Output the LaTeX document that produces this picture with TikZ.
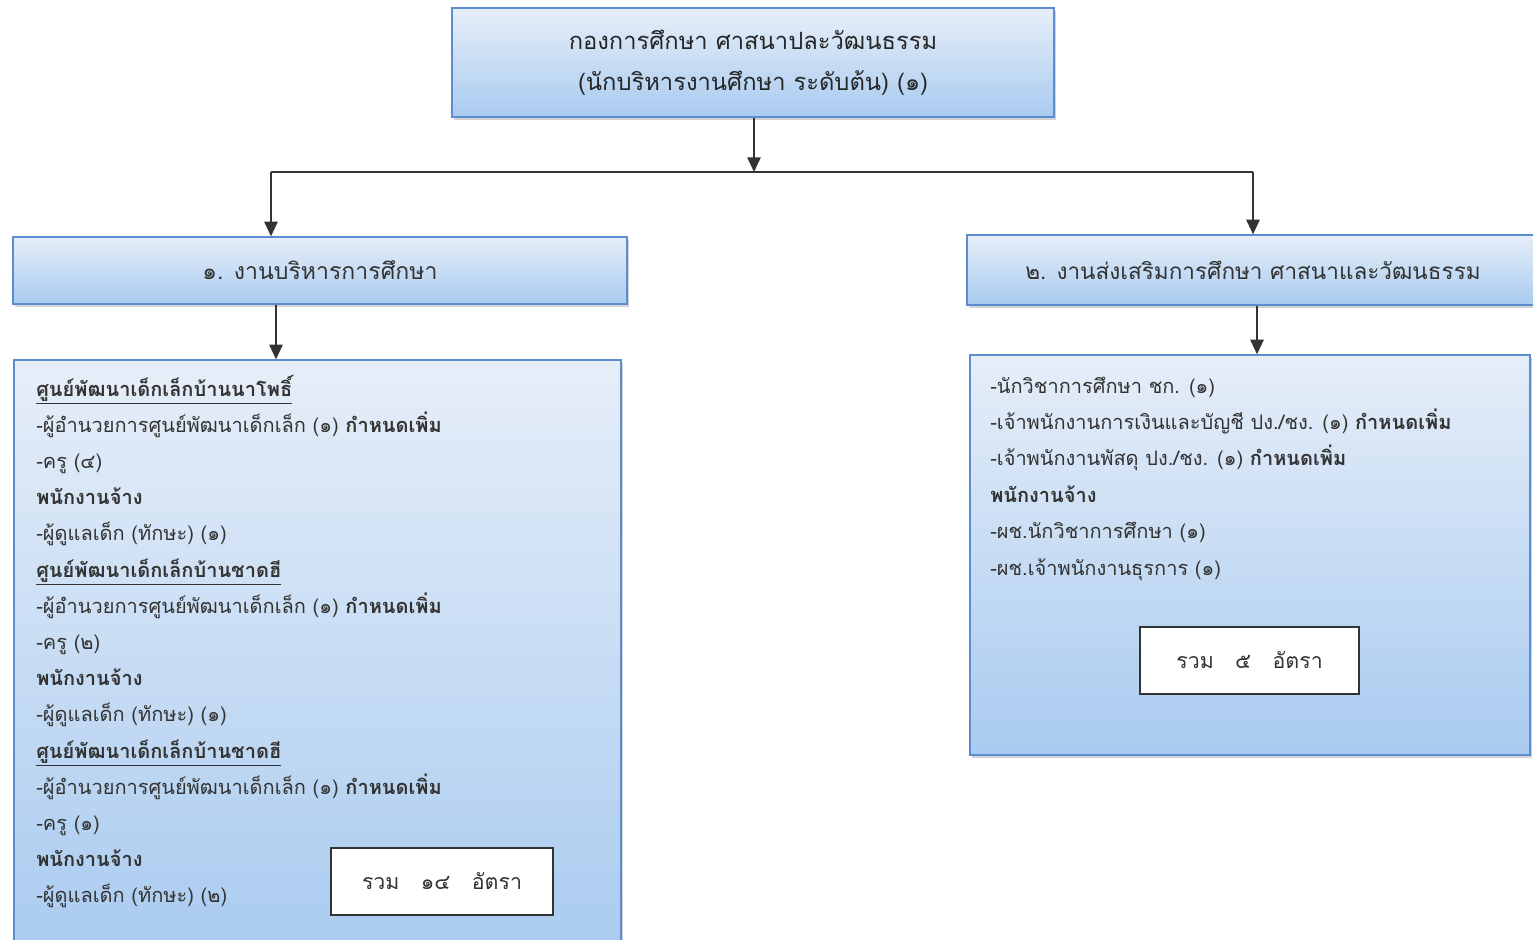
\documentclass[tikz,border=0pt]{standalone}
\usepackage{fontspec}
\setmainfont{Loma}[Script=Thai]
\usetikzlibrary{arrows.meta,shadows}
\definecolor{boxtop}{HTML}{E6EEF8}
\definecolor{boxbot}{HTML}{A9CBF0}
\definecolor{boxline}{HTML}{5B8DD0}
\definecolor{ink}{HTML}{333333}
\tikzset{
  unitbox/.style={draw=boxline, line width=1pt, top color=boxtop, bottom color=boxbot,
    drop shadow={shadow xshift=1.5pt, shadow yshift=-2pt, fill=gray, opacity=0.35},
    inner sep=0pt, text=ink},
  totalbox/.style={draw=ink, line width=1pt, fill=white, inner sep=0pt, text=ink},
  arr/.style={draw=ink, line width=1.2pt, -{Triangle[length=11pt,width=10pt]}},
  link/.style={draw=ink, line width=1.2pt},
  listtext/.style={anchor=base west, inner sep=0pt, text=ink, font=\fontsize{15}{18}\selectfont},
}
\begin{document}
\begin{tikzpicture}[x=0.75pt,y=0.75pt,yscale=-1,xscale=1]
        \clip (0,0) rectangle (1533,939);

        % boxes
        \draw (753,62.5) node [unitbox, minimum width=0.75*602, minimum height=0.75*109, align=center,
              text=black!85, font=\fontsize{17.8}{31}\selectfont] (top) {กองการศึกษา ศาสนาปละวัฒนธรรม\\(นักบริหารงานศึกษา ระดับต้น) (๑)};
        \draw (320,270.5) node [unitbox, minimum width=0.75*614, minimum height=0.75*67,
              font=\fontsize{17.3}{20}\selectfont] (sec1) {๑. งานบริหารการศึกษา};
        \draw (1253,270) node [unitbox, minimum width=0.75*572, minimum height=0.75*70,
              font=\fontsize{16.9}{20}\selectfont] (sec2) {๒. งานส่งเสริมการศึกษา ศาสนาและวัฒนธรรม};
        \draw (317.5,660) node [unitbox, minimum width=0.75*607, minimum height=0.75*600] (staffL) {};
        \draw (1250,555) node [unitbox, minimum width=0.75*560, minimum height=0.75*400] (staffR) {};

        % connectors
        \coordinate (jc) at (754,172);
        \coordinate (jl) at (271,172);
        \coordinate (jr) at (1253,172);
        \draw [arr] (top.south -| jc) -- (jc);
        \draw [link] (jl) -- (jr);
        \draw [arr] (jl) -- (jl |- sec1.north);
        \draw [arr] (jr) -- (jr |- sec2.north);
        \coordinate (kl) at (276,0);
        \coordinate (kr) at (1257,0);
        \draw [arr] (sec1.south -| kl) -- (staffL.north -| kl);
        \draw [arr] (sec2.south -| kr) -- (staffR.north -| kr);

        % staff lists
        \foreach \t [count=\i] in {
            {\textbf{\underline{ศูนย์พัฒนาเด็กเล็กบ้านนาโพธิ์}}},
            {-ผู้อำนวยการศูนย์พัฒนาเด็กเล็ก (๑) \textbf{กำหนดเพิ่ม}},
            {-ครู (๔)},
            {\textbf{พนักงานจ้าง}},
            {-ผู้ดูแลเด็ก (ทักษะ) (๑)},
            {\textbf{\underline{ศูนย์พัฒนาเด็กเล็กบ้านชาดฮี}}},
            {-ผู้อำนวยการศูนย์พัฒนาเด็กเล็ก (๑) \textbf{กำหนดเพิ่ม}},
            {-ครู (๒)},
            {\textbf{พนักงานจ้าง}},
            {-ผู้ดูแลเด็ก (ทักษะ) (๑)},
            {\textbf{\underline{ศูนย์พัฒนาเด็กเล็กบ้านชาดฮี}}},
            {-ผู้อำนวยการศูนย์พัฒนาเด็กเล็ก (๑) \textbf{กำหนดเพิ่ม}},
            {-ครู (๑)},
            {\textbf{พนักงานจ้าง}},
            {-ผู้ดูแลเด็ก (ทักษะ) (๒)}}{
            \draw (36,{396+36.2*(\i-1)}) node [listtext] (lineL\i) {\t};
        }
        \foreach \t [count=\i] in {
            {-นักวิชาการศึกษา ชก. (๑)},
            {-เจ้าพนักงานการเงินและบัญชี ปง./ชง. (๑) \textbf{กำหนดเพิ่ม}},
            {-เจ้าพนักงานพัสดุ ปง./ชง. (๑) \textbf{กำหนดเพิ่ม}},
            {\textbf{พนักงานจ้าง}},
            {-ผช.นักวิชาการศึกษา (๑)},
            {-ผช.เจ้าพนักงานธุรการ (๑)}}{
            \draw (990,{393+36.4*(\i-1)}) node [listtext] (lineR\i) {\t};
        }

        % totals
        \draw (442,881.5) node [totalbox, minimum width=0.75*222, minimum height=0.75*67,
              font=\fontsize{16}{20}\selectfont] (totalL) {รวม\quad ๑๔\quad อัตรา};
        \draw (1249.5,660.5) node [totalbox, minimum width=0.75*219, minimum height=0.75*67,
              font=\fontsize{16}{20}\selectfont] (totalR) {รวม\quad ๕\quad อัตรา};
\end{tikzpicture}
\end{document}
